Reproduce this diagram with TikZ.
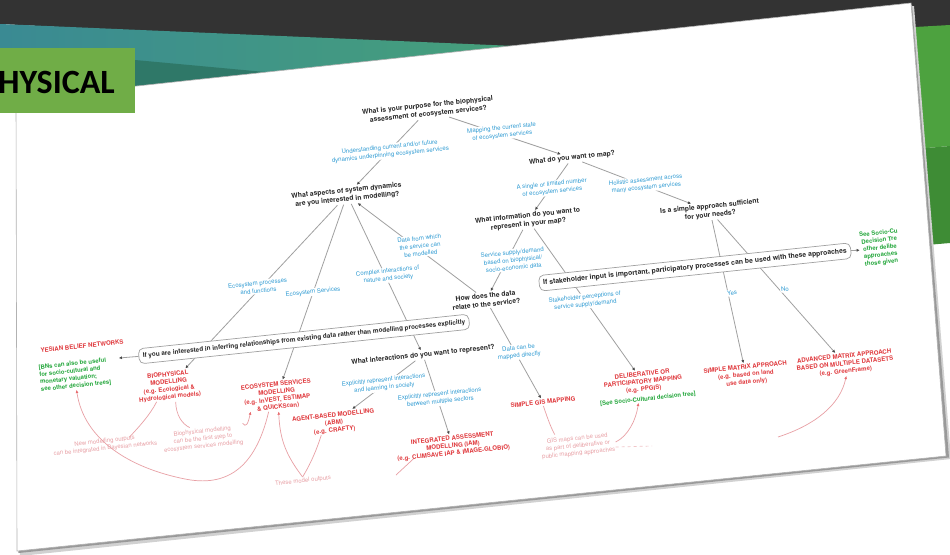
\documentclass[tikz,border=0pt]{standalone}
\usepackage{fontspec}
\setmainfont{TeX Gyre Heros}
\newfontfamily\tagfont{Carlito}
\usetikzlibrary{arrows.meta}

\definecolor{slidedark}{HTML}{333333}
\definecolor{tealA}{HTML}{3A8A93}
\definecolor{tealB}{HTML}{46A07A}
\definecolor{tealC}{HTML}{2F7868}
\definecolor{greenA}{HTML}{4DA23F}
\definecolor{greenB}{HTML}{3E8C35}
\definecolor{tagGreen}{HTML}{70AD47}
\definecolor{qblack}{HTML}{262626}
\definecolor{lblue}{HTML}{2F9BD3}
\definecolor{outred}{HTML}{E03A3E}
\definecolor{notegreen}{HTML}{22A63A}
\definecolor{notepink}{HTML}{E8A0A5}
\definecolor{wire}{HTML}{A0A0A0}
\definecolor{tipgrey}{HTML}{4A4A4A}

\pgfdeclarelayer{back}
\pgfdeclarelayer{wires}
\pgfsetlayers{back,wires,main}

\tikzset{
  question/.style={font=\fontsize{6.8}{8.6}\selectfont\bfseries, text=qblack, align=center, rotate=6, inner sep=1.5pt},
  lbl/.style={font=\fontsize{6.1}{7.6}\selectfont, text=lblue, align=center, rotate=6, fill=white, inner sep=1pt},
  outcome/.style={font=\fontsize{6.1}{7.5}\selectfont\bfseries, text=outred, align=center, rotate=6, inner sep=1.5pt},
  gnote/.style={font=\fontsize{6}{7.4}\selectfont\bfseries, text=notegreen, rotate=6, inner sep=1pt},
  pnote/.style={font=\fontsize{6}{7.4}\selectfont, text=notepink, align=center, rotate=6, inner sep=1pt},
  infobox/.style={draw=wire, line width=0.7pt, rounded corners=5pt, fill=white,
    font=\fontsize{6.4}{7.5}\selectfont\bfseries, text=qblack, rotate=6, inner xsep=4pt, inner ysep=4.5pt},
  flow/.style={draw=wire, line width=0.8pt, -{Triangle[length=3pt,width=2.6pt,color=tipgrey]}},
  pinkline/.style={draw=notepink, line width=0.7pt},
  pinkflow/.style={pinkline, -{Triangle[length=3pt,width=2.4pt,color=outred!75]}},
}

\begin{document}
\begin{tikzpicture}[x=1pt,y=-1pt]
\useasboundingbox (0,0) rectangle (950,554);

% ---------- slide background ----------
\begin{pgfonlayer}{back}
\fill[white] (0,0) rectangle (950,554);
\fill[slidedark] (0,0) -- (950,0) -- (950,26) -- (515,50) -- (0,24) -- cycle;
\shade[left color=tealA, right color=tealB] (0,24) -- (515,46) -- (135,96) -- (0,106) -- cycle;
\fill[tealC] (135,60) -- (265,72) -- (135,90) -- cycle;
\fill[greenA] (880,29) -- (950,25) -- (950,146) -- (880,152) -- cycle;
\fill[greenB] (880,152) -- (950,146) -- (950,243) -- (880,249) -- cycle;

% the tilted sheet with its shadow
\fill[black!18] (19,102) -- (914,6) -- (951,459) -- (20,556) -- cycle;
\fill[black!40] (17.5,100.5) -- (912,4.5) -- (949,457.5) -- (18.5,553) -- cycle;
\fill[white, draw=black!30, line width=0.6pt] (16,99) -- (911,3) -- (946,456) -- (17,551) -- cycle;

% title tag, partly off the slide
\fill[tagGreen] (0,48) rectangle (135,113);
\node[font=\tagfont\bfseries\fontsize{34}{34}\selectfont, anchor=base east, inner sep=0, text=black] (tagtext) at (115,93) {HYSICAL};
\end{pgfonlayer}

% ---------- questions ----------
\node[question] (q1) at (428,110) {What is your purpose for the biophysical\\assessment of ecosystem services?};
\node[question] (q2) at (347,195) {What aspects of system dynamics\\are you interested in modelling?};
\node[question] (q3) at (572,158) {What do you want to map?};
\node[question] (q4) at (528,220) {What information do you want to\\represent in your map?};
\node[question] (q5) at (710,211) {Is a simple approach sufficient\\for your needs?};
\node[question] (q6) at (486,300) {How does the data\\relate to the service?};
\node[question] (q7) at (423,355) {What interactions do you want to represent?};

% ---------- rounded info boxes ----------
\node[infobox] (boxA) at (304,339) {If you are interested in inferring relationships from existing data rather than modelling processes explicitly};
\node[infobox, font=\fontsize{6.9}{8}\selectfont\bfseries] (boxB) at (695,267) {If stakeholder input is important, participatory processes can be used with these approaches};

% ---------- outcomes ----------
\node[outcome] (r1) at (82,346) {YESIAN BELIEF NETWORKS};
\node[gnote, align=left] (g1) at (75,375) {[BNs can also be useful\\for socio-cultural and\\monetary valuation;\\see other decision trees]};
\node[outcome] (r2) at (169,386) {BIOPHYSICAL\\MODELLING\\(e.g. Ecological \&\\Hydrological models)};
\node[outcome] (r3) at (277,396) {ECOSYSTEM SERVICES\\MODELLING\\(e.g. InVEST, ESTIMAP\\\& QUICKScan)};
\node[outcome] (r4) at (334,423) {AGENT-BASED MODELLING\\(ABM)\\(e.g. CRAFTY)};
\node[outcome] (r5) at (453,446) {INTEGRATED ASSESSMENT\\MODELLING (IAM)\\(e.g. CLIMSAVE IAP \& IMAGE-GLOBIO)};
\node[outcome] (r6) at (543,402) {SIMPLE GIS MAPPING};
\node[outcome] (r7) at (643,382) {DELIBERATIVE OR\\PARTICIPATORY MAPPING\\(e.g. PPGIS)};
\node[gnote] (g2) at (648,399) {[See Socio-Cultural decision tree]};
\node[outcome] (r8) at (746,375) {SIMPLE MATRIX APPROACH\\(e.g. based on land\\use data only)};
\node[outcome] (r9) at (845,364) {ADVANCED MATRIX APPROACH\\BASED ON MULTIPLE DATASETS\\(e.g. GreenFrame)};
\node[gnote, align=center] (g3) at (880,248) {See Socio-Cu\\Decision Tre\\other delibe\\approaches\\those given};

% ---------- side notes ----------
\node[pnote] (p1) at (105,445) {New modelling outputs\\can be integrated in Bayesian networks};
\node[pnote] (p2) at (203,439) {Biophysical modelling\\can be the first step to\\ecosystem services modelling};
\node[pnote] (p3) at (303,481) {These model outputs};
\node[pnote] (p4) at (578,446) {GIS maps can be used\\as part of deliberative or\\public mapping approaches};

% ---------- branch labels ----------
\node[lbl] (l1) at (390,151) {Understanding current and/or future\\dynamics underpinning ecosystem services};
\node[lbl] (l2) at (502,132) {Mapping the current state\\of ecosystem services};
\node[lbl] (l3) at (552,188) {A single or limited number\\of ecosystem services};
\node[lbl] (l4) at (646,184) {Holistic assessment across\\many ecosystem services};
\node[lbl] (l5) at (513,260) {Service supply/demand\\based on biophysical/\\socio-economic data};
\node[lbl] (l6) at (420,246) {Data from which\\the service can\\be modelled};
\node[lbl] (l7) at (258,287) {Ecosystem processes\\and functions};
\node[lbl] (l8) at (313,292) {Ecosystem Services};
\node[lbl] (l9) at (388,275) {Complex interactions of\\nature and society};
\node[lbl] (l10) at (384,384) {Explicitly represent interactions\\and learning in society};
\node[lbl] (l11) at (440,398) {Explicitly represent interactions\\between multiple sectors};
\node[lbl] (l12) at (519,352) {Data can be\\mapped directly};
\node[lbl] (l13) at (585,301) {Stakeholder perceptions of\\service supply/demand};
\node[lbl] (l14) at (732,293) {Yes};
\node[lbl] (l15) at (785,289) {No};

\coordinate (bnin) at (119,358);
\coordinate (iamtail) at (396,475);
\coordinate (gistail) at (652,446);
\coordinate (matrixtail) at (778,437);

% ---------- connectors ----------
\begin{pgfonlayer}{wires}
\draw[flow] (q1) -- (q2);
\draw[flow] (q1) -- (q3);
\draw[flow] (q2) -- (r2);
\draw[flow] (q2) -- (r3);
\draw[flow] (q2) -- (q7);
\draw[flow] (q6) -- (q2);
\draw[flow] (q3) -- (q4);
\draw[flow] (q3) -- (q5);
\draw[flow] (q4) -- (q6);
\draw[flow] (q4) -- (r7);
\draw[flow] (q5) -- (r8);
\draw[flow] (q5) -- (r9);
\draw[flow] (q7) -- (r4);
\draw[flow] (q7) -- (r5);
\draw[flow] (q6) -- (r6);
\draw[flow] (boxA.west) -- (bnin);
\draw[flow] (boxB.east) -- (g3.west);

% notes and their links
\draw[pinkflow] ([xshift=-10pt]r3.south) .. controls (255,470) and (225,487) .. (185,479)
                .. controls (130,468) and (84,440) .. (g1.south);
\draw[pinkflow] (p3.north) .. controls (286,455) and (280,440) .. (r3.south);
\draw[pinkline] ([xshift=-14pt]r2.south) .. controls (150,415) and (138,428) .. ([xshift=25pt]p1.north);
\draw[pinkline] ([xshift=5pt]r2.south) .. controls (176,415) and (182,424) .. ([xshift=-12pt]p2.north);
\draw[pinkflow] (p2.north east) .. controls (246,428) and (248,424) .. ([xshift=-28pt]r3.south);
\draw[pinkline] ([xshift=-14pt]r4.south) .. controls (315,455) and (308,468) .. (p3.north);
\draw[pinkline] ([xshift=-40pt]r5.south) -- (iamtail);
\draw[pinkline] (r6.south) .. controls (548,420) and (552,430) .. ([xshift=-22pt]p4.north);
\draw[pinkflow] (p4.east) .. controls (628,436) and (636,420) .. ([xshift=-10pt]g2.south);
\draw[pinkline, dashed, opacity=0.6] ([yshift=-5pt]p4.east) -- (gistail);
\draw[pinkflow] (matrixtail) .. controls (815,425) and (840,405) .. (r9.south);
\end{pgfonlayer}
\end{tikzpicture}
\end{document}
